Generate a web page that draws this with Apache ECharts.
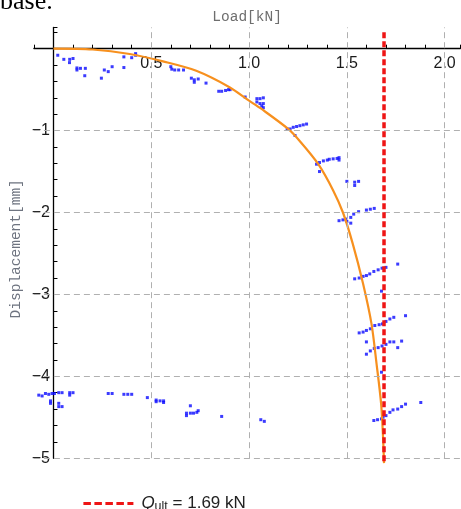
<!DOCTYPE html>
<html><head><meta charset="utf-8">
<script src="https://cdn.jsdelivr.net/npm/echarts@6/dist/echarts.min.js"></script>
<style>html,body{margin:0;padding:0;background:#fff;overflow:hidden}#c{width:461px;height:509px}</style>
</head><body><div id="c"></div>
<script>
// ---- data ----
const qUlt = 1.69;
const xGridValues = [0.5, 1.0, 1.5, 2.0];
const yGridValues = [-1, -2, -3, -4, -5];
const qUltLineDisp = [0.2, -5.06];

const curveLoad = [0, 0.2, 0.39, 0.56, 0.73, 0.9, 1.0, 1.06, 1.2, 1.26, 1.354, 1.43, 1.48, 1.53, 1.583, 1.626, 1.652, 1.675, 1.685, 1.69];
const curveDisp = [0, -0.01, -0.065, -0.155, -0.27, -0.47, -0.634, -0.73, -0.98, -1.13, -1.41, -1.73, -2.0, -2.38, -2.87, -3.36, -3.85, -4.33, -4.74, -5.06];

const measLoad = [
  0.022, 0.053, 0.083, 0.10, 0.082, 0.12, 0.12, 0.138, 0.163, 0.16, 0.245, 0.26, 0.28, 0.30, 0.36, 0.36, 0.40, 0.42, 0.42,
  0.60, 0.605, 0.62, 0.64, 0.665, 0.705, 0.72, 0.74, 0.72, 0.78, 0.845, 0.86, 0.88, 0.895, 0.903,
  0.98, 1.04, 1.056, 1.073, 1.04, 1.056, 1.073, 1.065, 1.073,
  1.195, 1.21, 1.226, 1.243, 1.26, 1.277, 1.294, 1.235,
  1.345, 1.36, 1.38, 1.40, 1.41, 1.43, 1.45, 1.46, 1.46, 1.36,
  1.50, 1.54, 1.56, 1.54,
  1.46, 1.48, 1.495, 1.50, 1.52, 1.535, 1.56, 1.60, 1.62, 1.64, 1.52,
  1.54, 1.563, 1.583, 1.60, 1.617, 1.638, 1.66, 1.68, 1.70, 1.76, 1.677,
  1.563, 1.583, 1.60, 1.62, 1.643, 1.665, 1.682, 1.70, 1.72, 1.74, 1.80,
  1.60, 1.62, 1.64, 1.66, 1.68, 1.70, 1.72, 1.74, 1.78, 1.76, 1.60, 1.677,
  1.638, 1.657, 1.677, 1.685, 1.70, 1.72, 1.736, 1.76, 1.78, 1.80, 1.878,
  -0.075, -0.058, -0.041, -0.024, -0.007, 0.005, 0.027, 0.044, 0.083, 0.10, 0.083, -0.015, -0.015, 0.027, 0.027, 0.044,
  0.28, 0.30, 0.36, 0.38, 0.40, 0.48, 0.525, 0.545, 0.563, 0.525, 0.563,
  0.70, 0.68, 0.70, 0.716, 0.733, 0.74, 0.68, 0.86, 1.06, 1.078
];
const measDisp = [
  -0.08, -0.13, -0.13, -0.12, -0.17, -0.235, -0.26, -0.24, -0.24, -0.33, -0.36, -0.26, -0.28, -0.22, -0.10, -0.23, -0.11, -0.06, -0.08,
  -0.22, -0.25, -0.26, -0.26, -0.26, -0.36, -0.38, -0.37, -0.41, -0.42, -0.52, -0.52, -0.51, -0.50, -0.50,
  -0.59, -0.61, -0.61, -0.60, -0.65, -0.67, -0.67, -0.70, -0.72,
  -0.98, -0.98, -0.96, -0.95, -0.94, -0.93, -0.92, -1.06,
  -1.41, -1.39, -1.37, -1.36, -1.35, -1.345, -1.34, -1.33, -1.36, -1.50,
  -1.62, -1.63, -1.62, -1.67,
  -2.10, -2.09, -2.08, -2.11, -2.06, -2.02, -1.99, -1.97, -1.96, -1.95, -2.13,
  -2.81, -2.80, -2.78, -2.77, -2.75, -2.72, -2.70, -2.68, -2.67, -2.63, -2.96,
  -3.47, -3.46, -3.44, -3.42, -3.38, -3.37, -3.36, -3.33, -3.30, -3.28, -3.26,
  -3.73, -3.69, -3.66, -3.65, -3.63, -3.61, -3.58, -3.58, -3.57, -3.65, -3.58, -3.95,
  -4.54, -4.53, -4.52, -4.50, -4.48, -4.44, -4.41, -4.40, -4.37, -4.34, -4.32,
  -4.23, -4.24, -4.21, -4.22, -4.21, -4.21, -4.20, -4.20, -4.20, -4.20, -4.23, -4.30, -4.33, -4.33, -4.37, -4.37,
  -4.21, -4.21, -4.22, -4.22, -4.22, -4.26, -4.29, -4.30, -4.30, -4.31, -4.32,
  -4.36, -4.45, -4.45, -4.45, -4.44, -4.42, -4.48, -4.49, -4.53, -4.55
];

// ---- chart ----
const chart = echarts.init(document.getElementById('c'), null, { renderer: 'canvas' });
const isMult = (v, m) => Math.abs(v / m - Math.round(v / m)) < 1e-6;
const monoFont = '"Liberation Mono", "DejaVu Sans Mono", monospace';
const sansFont = '"Liberation Sans", Arial, sans-serif';

const GRID = { left: 33.9, top: 27.4, width: 426.4, height: 430.8 };
const X_MIN = -0.1, X_MAX = 2.08, Y_MIN = -5, Y_MAX = 0.26;
// offsets so that the axes cross at the origin (0,0)
const xAxisOffset = -(GRID.height * (0 - Y_MIN) / (Y_MAX - Y_MIN));
const yAxisOffset = -(GRID.width * (0 - X_MIN) / (X_MAX - X_MIN));

const option = {
  animation: false,
  backgroundColor: '#fff',
  grid: { left: GRID.left, top: GRID.top, width: GRID.width, height: GRID.height, containLabel: false, outerBoundsMode: 'none' },
  xAxis: {
    type: 'value', min: X_MIN, max: X_MAX, interval: 0.1, position: 'bottom', offset: xAxisOffset,
    name: 'Load[kN]', nameLocation: 'middle', nameGap: -39, nameMoveOverlap: false,
    nameTextStyle: { fontFamily: monoFont, fontSize: 14.5, color: '#6e6e6e' },
    axisLine: { onZero: false, lineStyle: { color: '#000', width: 1.3 } },
    axisTick: { show: true, inside: true, length: 4, lineStyle: { color: '#000', width: 1 } },
    axisLabel: {
      margin: 7, fontFamily: sansFont, fontSize: 16, color: '#1a1a1a', hideOverlap: false,
      formatter: v => (isMult(v, 0.5) && Math.abs(v) > 1e-6) ? v.toFixed(1) : ''
    },
    splitLine: { show: false }
  },
  yAxis: {
    type: 'value', min: Y_MIN, max: Y_MAX, interval: 0.2, position: 'left', offset: yAxisOffset,
    name: 'Displacement[mm]', nameLocation: 'middle', nameGap: 30, nameMoveOverlap: false,
    nameTextStyle: { fontFamily: monoFont, fontSize: 14.5, color: '#6e7480', padding: [0, 12, 0, 0] },
    axisLine: { onZero: false, lineStyle: { color: '#000', width: 1.3 } },
    axisTick: { show: true, inside: true, length: 4, lineStyle: { color: '#000', width: 1 } },
    axisLabel: {
      margin: 3.5, fontFamily: sansFont, fontSize: 16, color: '#1a1a1a', hideOverlap: false,
      formatter: v => (isMult(v, 1) && Math.abs(v) > 1e-6) ? '\u2212' + Math.round(Math.abs(v)) : ''
    },
    splitLine: { show: false }
  },
  legend: {
    data: ['Qult'], left: 77, top: 490, itemWidth: 50, itemHeight: 14, itemGap: 10,
    selectedMode: false,
    lineStyle: { width: 2.8, type: [7.5, 3.5] },
    itemStyle: { opacity: 0 },
    formatter: () => '{q|Q}{s|ult}{t| = 1.69 kN}',
    textStyle: {
      padding: [0, 0, 0, 3],
      rich: {
        q: { fontFamily: sansFont, fontSize: 17, fontStyle: 'italic', color: '#222', lineHeight: 20 },
        s: { fontFamily: sansFont, fontSize: 12.5, color: '#222', verticalAlign: 'bottom', lineHeight: 13 },
        t: { fontFamily: sansFont, fontSize: 17, color: '#222', lineHeight: 20 }
      }
    }
  },
  graphic: [{
    type: 'text', left: 0, top: -10.5, silent: true,
    style: { text: 'base.', font: '26px "Liberation Serif", "Times New Roman", serif', fill: '#000' }
  }],
  series: [
    {
      type: 'line', name: 'grid', data: [], z: 1, silent: true,
      markLine: {
        silent: true, symbol: 'none', animation: false,
        label: { show: false },
        lineStyle: { color: '#b0b0b0', type: [6, 4], width: 1 },
        data: xGridValues.map(v => ({ xAxis: v })).concat(yGridValues.map(v => ({ yAxis: v })))
      }
    },
    {
      type: 'scatter', name: 'data', z: 3, symbol: 'rect', symbolSize: 3,
      itemStyle: { color: '#0a0aff' },
      data: measLoad.map((x, i) => [x, measDisp[i]])
    },
    {
      type: 'line', name: 'fit', z: 4, smooth: 0.3, showSymbol: false, symbol: 'none', clip: false,
      lineStyle: { color: '#f7901e', width: 2.2 },
      data: curveLoad.map((x, i) => [x, curveDisp[i]])
    },
    {
      type: 'line', name: 'Qult', z: 5, symbol: 'none', showSymbol: false, clip: false,
      lineStyle: { color: '#ee1515', width: 3.5, type: [6, 3] },
      itemStyle: { color: '#ee1515' },
      data: qUltLineDisp.map(d => [qUlt, d])
    }
  ]
};
chart.setOption(option);
</script>
</body></html>
